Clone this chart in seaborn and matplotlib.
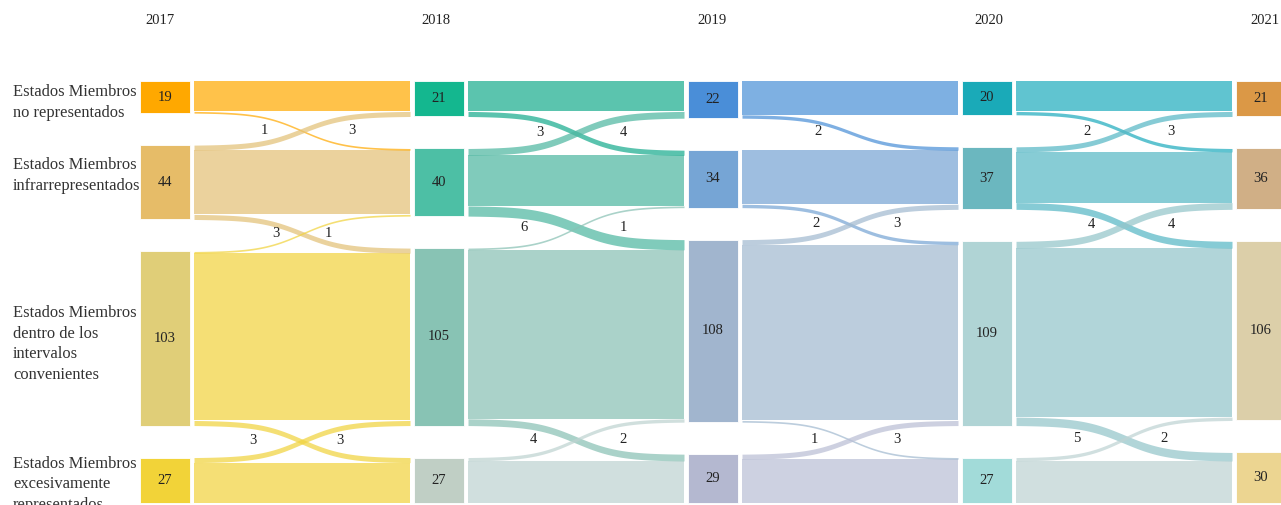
import numpy as np
import matplotlib
matplotlib.use("Agg")
import matplotlib.pyplot as plt
from matplotlib.colors import to_rgb
import seaborn as sns

# ---------------- data ----------------
years = ["2017", "2018", "2019", "2020", "2021"]
categories = [
    "Estados Miembros\nno representados",
    "Estados Miembros\ninfrarrepresentados",
    "Estados Miembros\ndentro de los\nintervalos\nconvenientes",
    "Estados Miembros\nexcesivamente\nrepresentados",
]
counts_2017 = [19, 44, 103, 27]
counts_2018 = [21, 40, 105, 27]
counts_2019 = [22, 34, 108, 29]
counts_2020 = [20, 37, 109, 27]
counts_2021 = [21, 36, 106, 30]
counts = [counts_2017, counts_2018, counts_2019, counts_2020, counts_2021]

# moves between neighbouring categories for each year transition
down_moves = [[1, 3, 3], [3, 6, 4], [2, 2, 1], [2, 4, 5]]   # category i -> i+1
up_moves = [[3, 1, 3], [4, 1, 2], [0, 3, 3], [3, 4, 2]]     # category i+1 -> i

# ---------------- styles ----------------
node_colors = [
    ["#FFA800", "#E6BC68", "#E0CE78", "#F2D338"],
    ["#14B78F", "#4DBFA5", "#88C3B4", "#C0CFC5"],
    ["#4A8ED8", "#76A5D5", "#A1B5CE", "#B4B8D0"],
    ["#1AAAB8", "#6BB7BF", "#B0D4D5", "#A2DBD9"],
    ["#DB9846", "#D0AF86", "#DCCFA9", "#ECD591"],
]
link_colors = [
    ["#FFC24A", "#EBD29D", "#F5DF75", "#F5DF75"],
    ["#5BC4AE", "#80CBBB", "#AAD2C9", "#D0DFDE"],
    ["#7EB0E2", "#9EBEE0", "#BCCDDD", "#CDD1E1"],
    ["#60C4D0", "#87CCD5", "#B1D5D9", "#D0DFDF"],
]
# small manual nudges of the crossing labels (pixels from link centre)
left_label_dx = [[-38, -26, -49], [-36, -52, -43], [-32, -34, -36], [-37, -33, -47]]
right_label_dx = [[50, 26, 38], [47, 47, 47], [47, 47, 47], [47, 47, 40]]
cat_label_dy = [5.5, -7, 5.5, 4]

TOP, SCALE, GAP = 81.0, 1.69, 32.0
NODE_X0, COL_STEP, NODE_W, PAD = 140.0, 274.0, 50.0, 4.0
W, H = 1281, 505
TXT = "#222222"

sns.set_theme(style="white")
plt.rcParams["font.family"] = ["Liberation Serif", "DejaVu Serif"]

fig = plt.figure(figsize=(W / 100, H / 100), dpi=100)
ax = fig.add_axes([0, 0, 1, 1])
ax.set_xlim(0, W)
ax.set_ylim(H, 0)
ax.axis("off")


def tops(col):
    c = counts[col]
    return [TOP + SCALE * sum(c[:i]) + GAP * i for i in range(len(c))]


def rgba_on_white(hexc, a=0.72):
    c = np.array(to_rgb(hexc))
    base = np.clip((c - (1 - a)) / a, 0, 1)
    return (*base, a)


def ribbon(x0, x1, s0, s1, t0, t1, color):
    xs = np.linspace(x0, x1, 300)
    u = (xs - x0) / (x1 - x0)
    k = 5.0
    f = 0.5 + 0.5 * np.tanh(k * (u - 0.5)) / np.tanh(k / 2)
    ax.fill_between(xs, s0 + (t0 - s0) * f, s1 + (t1 - s1) * f,
                    color=color, lw=0)


n_cat = len(categories)

# ---------------- links ----------------
for c in range(len(years) - 1):
    src, tgt = counts[c], counts[c + 1]
    st, tt = tops(c), tops(c + 1)
    d, u = down_moves[c], up_moves[c]
    x0 = NODE_X0 + COL_STEP * c + NODE_W + PAD
    x1 = NODE_X0 + COL_STEP * (c + 1) - PAD
    # stays
    for i in range(n_cat):
        up_out = u[i - 1] if i > 0 else 0
        down_out = d[i] if i < n_cat - 1 else 0
        stay = src[i] - up_out - down_out
        y0 = st[i] + SCALE * up_out
        down_in = d[i - 1] if i > 0 else 0
        y1 = tt[i] + SCALE * down_in
        ribbon(x0, x1, y0, y0 + SCALE * stay, y1, y1 + SCALE * stay,
               link_colors[c][i])
    # crossings
    for i in range(n_cat - 1):
        if d[i] > 0:
            s1 = st[i] + SCALE * src[i]
            s0 = s1 - SCALE * d[i]
            t0 = tt[i + 1]
            ribbon(x0, x1, s0, s1, t0, t0 + SCALE * d[i],
                   rgba_on_white(link_colors[c][i]))
        if u[i] > 0:
            s0 = st[i + 1]
            t1 = tt[i] + SCALE * tgt[i]
            ribbon(x0, x1, s0, s0 + SCALE * u[i], t1 - SCALE * u[i], t1,
                   rgba_on_white(link_colors[c][i + 1]))
        mid = (x0 + x1) / 2
        gap_top = (st[i] + SCALE * src[i] + tt[i] + SCALE * tgt[i]) / 2
        ly = gap_top + 0.48 * GAP
        if d[i] > 0:
            ax.text(mid + left_label_dx[c][i], ly, str(d[i]), ha="center",
                    va="center", fontsize=10.5, color=TXT)
        if u[i] > 0:
            ax.text(mid + right_label_dx[c][i], ly, str(u[i]), ha="center",
                    va="center", fontsize=10.5, color=TXT)

# ---------------- nodes ----------------
for c, yr in enumerate(years):
    xl = NODE_X0 + COL_STEP * c
    t = tops(c)
    ax.bar([xl + NODE_W / 2] * n_cat, [SCALE * v for v in counts[c]],
           width=NODE_W, bottom=t, color=node_colors[c],
           edgecolor="white", linewidth=0.6)
    for i, v in enumerate(counts[c]):
        ax.text(xl + NODE_W / 2, t[i] + SCALE * v / 2, str(v), ha="center",
                va="center", fontsize=10.5, color=TXT)
    ax.text(159.5 + 276.4 * c, 20.5, yr, ha="center", va="center",
            fontsize=10.5, color=TXT)

# ---------------- category labels ----------------
t0 = tops(0)
for i, lab in enumerate(categories):
    yc = t0[i] + SCALE * counts[0][i] / 2 + cat_label_dy[i]
    ax.text(13, yc, lab, ha="left", va="center", fontsize=11.9,
            color="#333333", linespacing=1.38)

fig.savefig("out.png", dpi=100)
